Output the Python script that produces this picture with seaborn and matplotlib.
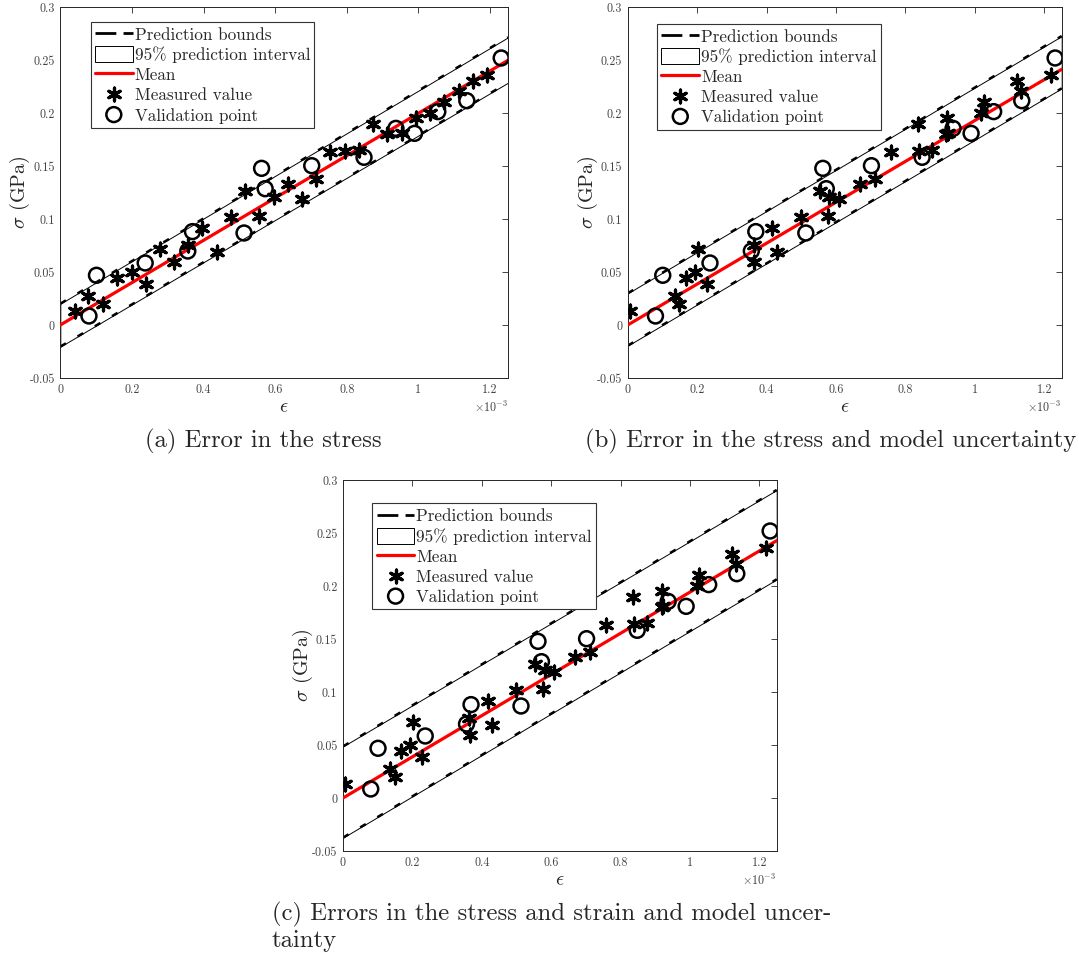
import numpy as np
import pandas as pd
import matplotlib
matplotlib.use("Agg")
import matplotlib.pyplot as plt
from matplotlib.lines import Line2D
import seaborn as sns
from matplotlib.ticker import ScalarFormatter

# ---------------- data ----------------
# measured stress values (GPa), same in all panels
meas_stress = [0.0132, 0.0277, 0.0195, 0.0443, 0.0500, 0.0384, 0.0714, 0.0591,
               0.0752, 0.0912, 0.0692, 0.1022, 0.1267, 0.1025, 0.1208, 0.1333,
               0.1192, 0.1374, 0.1629, 0.1642, 0.1648, 0.1893, 0.1805, 0.1808,
               0.1950, 0.2003, 0.2104, 0.2208, 0.2305, 0.2355]
# measured strain (x1e-3) in panel (a)
meas_strain_a = [0.041, 0.078, 0.120, 0.159, 0.200, 0.238, 0.278, 0.317,
                 0.357, 0.397, 0.437, 0.476, 0.516, 0.556, 0.597, 0.635,
                 0.675, 0.714, 0.754, 0.795, 0.834, 0.873, 0.913, 0.953,
                 0.992, 1.033, 1.072, 1.112, 1.151, 1.191]
# measured strain (x1e-3) in panels (b) and (c)
meas_strain_bc = [0.007, 0.136, 0.149, 0.167, 0.193, 0.229, 0.203, 0.365,
                  0.364, 0.417, 0.430, 0.499, 0.554, 0.577, 0.581, 0.670,
                  0.609, 0.713, 0.759, 0.840, 0.875, 0.836, 0.918, 0.922,
                  0.920, 1.019, 1.025, 1.132, 1.122, 1.218]
# validation points
val_strain = [0.080, 0.101, 0.237, 0.356, 0.369, 0.513, 0.562, 0.572,
              0.702, 0.848, 0.937, 0.989, 1.054, 1.135, 1.231]
val_stress = [0.0085, 0.0469, 0.0585, 0.0698, 0.0881, 0.0868, 0.1478, 0.1286,
              0.1503, 0.1582, 0.1855, 0.1808, 0.2013, 0.2116, 0.2519]

# model lines at strain 0 and 1.25e-3
line_strain = [0.0, 1.25]
mean_a = [0.0, 0.2497]
upper_a = [0.0201, 0.2714]
lower_a = [-0.0204, 0.2286]
mean_b = [0.0, 0.2412]
upper_b = [0.0299, 0.2726]
lower_b = [-0.0195, 0.2233]
mean_c = [0.0, 0.2428]
upper_c = [0.0487, 0.2906]
lower_c = [-0.0374, 0.2063]

x_ticks = [0.0, 0.2, 0.4, 0.6, 0.8, 1.0, 1.2]
y_ticks = [-0.05, 0, 0.05, 0.1, 0.15, 0.2, 0.25, 0.3]
y_ticklabels = ["-0.05", "0", "0.05", "0.1", "0.15", "0.2", "0.25", "0.3"]

captions = ["(a) Error in the stress",
            "(b) Error in the stress and model uncertainty",
            "(c) Errors in the stress and strain and model uncer-\ntainty"]
legend_labels = ["Prediction bounds", "95% prediction interval", "Mean",
                 "Measured value", "Validation point"]

# ---------------- style ----------------
sns.set_theme(style="white")
plt.rcParams["font.family"] = ["cmr10", "DejaVu Serif"]
plt.rcParams["mathtext.fontset"] = "cm"
plt.rcParams["axes.formatter.use_mathtext"] = True
plt.rcParams["axes.unicode_minus"] = False


class GFormatter(ScalarFormatter):
    def _set_format(self):
        self.format = "%g"


fig = plt.figure(figsize=(10.79, 9.6), dpi=100)

W, H = 1079.0, 960.0
def axrect(l, r, t, b):
    return [l / W, 1 - b / H, (r - l) / W, (b - t) / H]

rects = [axrect(60.3, 508, 7, 378), axrect(627.7, 1061.7, 7, 378),
         axrect(343, 776.7, 480, 851)]
panels = [
    (meas_strain_a, mean_a, upper_a, lower_a),
    (meas_strain_bc, mean_b, upper_b, lower_b),
    (meas_strain_bc, mean_c, upper_c, lower_c),
]
leg_anchor = [(0.068, 0.96), (0.068, 0.955), (0.068, 0.937)]

for i, (rect, (mx, mean, up, lo)) in enumerate(zip(rects, panels)):
    ax = fig.add_axes(rect)
    lx = np.array(line_strain) * 1e-3
    df_line = pd.DataFrame({"strain": lx, "mean": mean, "upper": up, "lower": lo})
    fill = ax.fill_between(df_line["strain"], df_line["lower"], df_line["upper"],
                           facecolor="white", edgecolor="black", linewidth=0.7,
                           zorder=1)
    for col in ["upper", "lower"]:
        sns.lineplot(data=df_line, x="strain", y=col, ax=ax, color="black",
                     linewidth=1.8, dashes=False, zorder=2)
    for ln in ax.lines:
        ln.set_dashes((2.6, 5.4))
    sns.lineplot(data=df_line, x="strain", y="mean", ax=ax, color="#ff0000",
                 linewidth=2.3, zorder=3)
    mean_line = ax.lines[-1]
    bound_handle = Line2D([], [], color="black", linewidth=2.0,
                          dashes=(7.5, 2.6))

    df_m = pd.DataFrame({"strain": np.array(mx) * 1e-3, "stress": meas_stress})
    df_v = pd.DataFrame({"strain": np.array(val_strain) * 1e-3, "stress": val_stress})
    sns.scatterplot(data=df_m, x="strain", y="stress", ax=ax, marker=(6, 2, 0),
                    s=85, color="black", linewidth=2.3, zorder=4)
    sns.scatterplot(data=df_v, x="strain", y="stress", ax=ax, marker="o",
                    s=115, facecolor="none", edgecolor="black", linewidth=1.8,
                    zorder=5)

    ax.set_xlim(0, 1.25e-3)
    ax.set_ylim(-0.05, 0.3)
    ax.set_xticks(np.array(x_ticks) * 1e-3)
    fmt = GFormatter(useMathText=True)
    fmt.set_powerlimits((-2, 2))
    ax.xaxis.set_major_formatter(fmt)
    ax.set_yticks(y_ticks)
    ax.set_yticklabels(y_ticklabels)
    ax.tick_params(direction="in", length=4, width=0.6, top=True, right=True,
                   labelsize=8.7, labelcolor="#444444", color="#262626", pad=4)
    ax.xaxis.get_offset_text().set_fontsize(8.7)
    ax.xaxis.get_offset_text().set_color("#444444")
    for sp in ax.spines.values():
        sp.set_color("#262626")
        sp.set_linewidth(0.7)
    ax.set_xlabel(r"$\epsilon$", fontsize=14.5, labelpad=2)
    ax.set_ylabel(r"$\sigma$ (GPa)", fontsize=14.5, labelpad=-2)

    meas_art = ax.collections[-2]
    val_art = ax.collections[-1]
    leg = ax.legend([bound_handle, fill, mean_line, meas_art, val_art], legend_labels,
                    loc="upper left", bbox_to_anchor=leg_anchor[i],
                    fontsize=12.3, frameon=True, fancybox=False, framealpha=1,
                    edgecolor="#333333", handlelength=2.2, handleheight=1.05,
                    handletextpad=0.12, borderpad=0.25, labelspacing=0.2,
                    borderaxespad=0, markerscale=1.0)
    leg.get_frame().set_linewidth(0.8)

# captions
fig.text(263 / W, 1 - 441 / H, captions[0], ha="center", va="center", fontsize=17.8)
fig.text(831 / W, 1 - 441 / H, captions[1], ha="center", va="center", fontsize=17.8)
fig.text(272 / W, 1 - 902 / H, captions[2], ha="left", va="top", fontsize=17.8,
         linespacing=1.15)

fig.savefig("out.png", dpi=100)
